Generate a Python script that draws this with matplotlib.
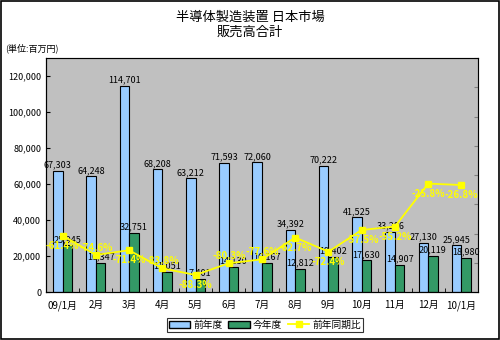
import matplotlib
matplotlib.use('Agg')
import matplotlib.pyplot as plt
from matplotlib.patches import Rectangle
from matplotlib.lines import Line2D
from matplotlib.patches import Patch
import numpy as np

plt.rcParams['font.family'] = ['Noto Sans CJK JP', 'DejaVu Sans']

months = ['09/1月', '2月', '3月', '4月', '5月', '6月', '7月', '8月', '9月',
          '10月', '11月', '12月', '10/1月']
prev_year = [67303, 64248, 114701, 68208, 63212, 71593, 72060, 34392, 70222,
             41525, 33286, 27130, 25945]
this_year = [25945, 16347, 32751, 11051, 7401, 14130, 16167, 12812, 19402,
             17630, 14907, 20119, 18980]
yoy = [-61.4, -74.6, -71.4, -83.8, -88.3, -80.3, -77.6, -62.7, -72.4,
       -57.5, -55.2, -25.8, -26.8]

# label above (+) or below (-) the line point
pct_pos = [-1, 1, -1, 1, -1, 1, 1, -1, -1, -1, -1, -1, -1]

fig = plt.figure(figsize=(5, 3.4), dpi=100)
fig.patches.append(Rectangle((0.002, 0.003), 0.996, 0.994, transform=fig.transFigure,
                             fill=False, edgecolor='black', linewidth=1.2))

ax = fig.add_axes([0.092, 0.141, 0.864, 0.688])
ax.set_facecolor('#C0C0C0')
x = np.arange(len(months))
w = 0.286
ax.bar(x - w / 2, prev_year, w, color='#99CCFF', edgecolor='black', linewidth=0.8, zorder=2)
ax.bar(x + w / 2, this_year, w, color='#339966', edgecolor='black', linewidth=0.8, zorder=2)
for i in x:
    ax.text(i - w / 2, prev_year[i] + 800, f'{prev_year[i]:,}', ha='center', va='bottom',
            fontsize=6.5, zorder=5)
    ax.text(i + w / 2, this_year[i] + 800, f'{this_year[i]:,}', ha='center', va='bottom',
            fontsize=6.5, zorder=5)

ax.set_xlim(-0.5, len(months) - 0.5)
ax.set_ylim(0, 130000)
ax.set_yticks(range(0, 120001, 20000))
ax.set_yticklabels([f'{v:,}' for v in range(0, 120001, 20000)], fontsize=6.5)
ax.set_xticks(x)
ax.set_xticklabels(months, fontsize=7)
ax.tick_params(axis='x', length=0, pad=6)
ax.set_xticks(np.arange(-0.5, len(months)), minor=True)
ax.tick_params(axis='x', which='minor', length=3, direction='in')
ax.tick_params(axis='y', direction='in', length=3)
for s in ax.spines.values():
    s.set_color('#808080')
ax.spines['left'].set_color('black')
ax.spines['bottom'].set_color('black')

ax2 = ax.twinx()
ax2.set_ylim(-100, 60)
ax2.set_yticks(range(-100, 61, 20))
ax2.set_yticklabels([])
ax2.tick_params(axis='y', direction='in', length=3, colors='#808080')
ax2.plot(x, yoy, color='#FFFF00', linewidth=1.3, marker='s', markersize=5,
         markerfacecolor='#FFFF00', markeredgecolor='#FFFF00', zorder=4)
for i in x:
    off = 5 if pct_pos[i] > 0 else -7
    ax2.text(i, yoy[i] + off, f'{yoy[i]}%', ha='center', va='center', color='#FFFF00',
             fontsize=7, fontweight='bold', zorder=6)

fig.text(0.5, 0.95, '半導体製造装置 日本市場', ha='center', va='center', fontsize=9.5)
fig.text(0.5, 0.905, '販売高合計', ha='center', va='center', fontsize=9.5)
fig.text(0.01, 0.858, '(単位:百万円)', ha='left', va='center', fontsize=6.5)

handles = [Patch(facecolor='#99CCFF', edgecolor='black'),
           Patch(facecolor='#339966', edgecolor='black'),
           Line2D([0], [0], color='#FFFF00', marker='s', markersize=4, linewidth=1.3)]
leg = fig.legend(handles, ['前年度', '今年度', '前年同期比'], loc='center',
                 bbox_to_anchor=(0.53, 0.045), ncol=3, fontsize=7, frameon=True,
                 fancybox=False, edgecolor='black', handlelength=2.2, handletextpad=0.3,
                 columnspacing=0.6, borderpad=0.2)
leg.get_frame().set_linewidth(0.8)

fig.savefig('out.png', dpi=100)
